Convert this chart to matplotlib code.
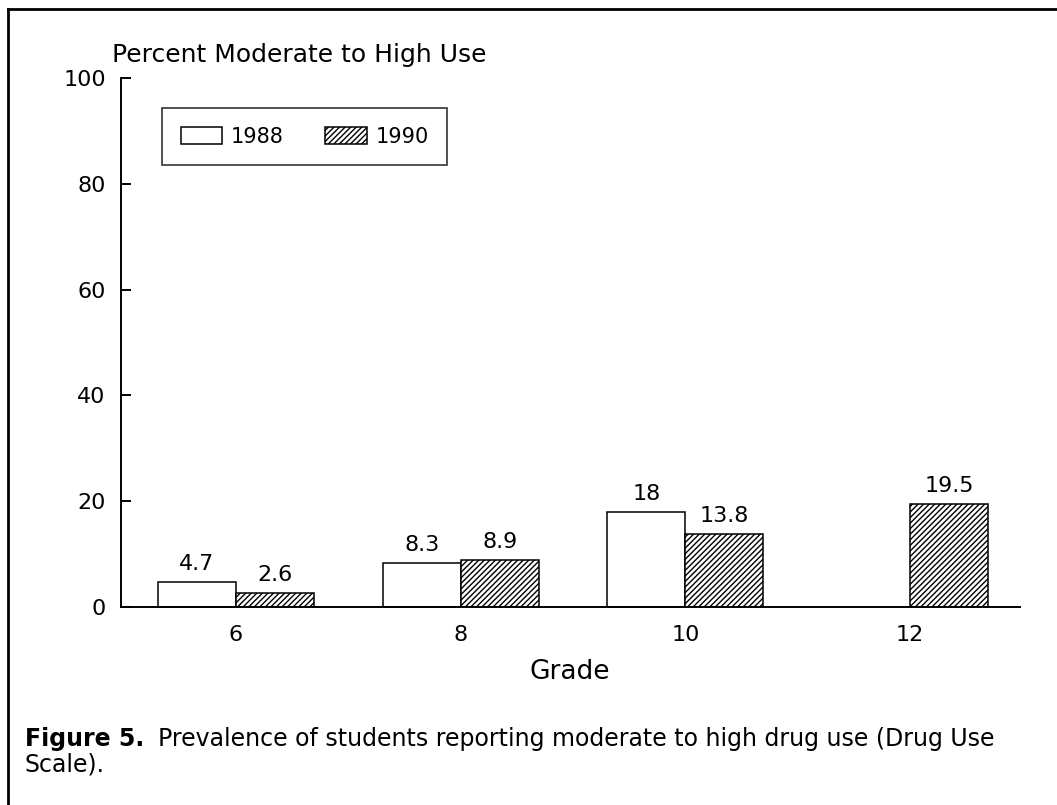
import numpy as np
import matplotlib
matplotlib.use("Agg")
import matplotlib.pyplot as plt
from matplotlib.lines import Line2D

# data
grades = ["6", "8", "10", "12"]
use_1988 = [4.7, 8.3, 18, np.nan]   # no 1988 survey for grade 12
use_1990 = [2.6, 8.9, 13.8, 19.5]
labels_1988 = ["4.7", "8.3", "18", ""]
labels_1990 = ["2.6", "8.9", "13.8", "19.5"]

W, H = 1057, 805
plt.rcParams['font.family'] = ['DejaVu Sans']
plt.rcParams['hatch.linewidth'] = 1.0

fig = plt.figure(figsize=(W / 100, H / 100), dpi=100)
ax = fig.add_axes([121 / W, 1 - 607 / H, (1020 - 121) / W, (607 - 78) / H])

x = np.arange(len(grades))
bw = 0.347
b1 = ax.bar(x - bw, use_1988, bw, align='edge', color='white', edgecolor='black', linewidth=1.1, label='1988')
b2 = ax.bar(x, use_1990, bw, align='edge', color='white', edgecolor='black', linewidth=1.1,
            hatch='//////', label='1990')

for bars, labs in [(b1, labels_1988), (b2, labels_1990)]:
    for r, lab in zip(bars, labs):
        if lab == "":
            continue
        ax.annotate(lab, (r.get_x() + r.get_width() / 2, r.get_height()),
                    xytext=(0, 8.5), textcoords='offset points',
                    ha='center', va='baseline', fontsize=16)

ax.set_xlim(-0.512, 3.489)
ax.set_ylim(0, 100)
ax.set_xticks(x)
ax.set_xticklabels(grades)
ax.set_yticks([0, 20, 40, 60, 80, 100])
ax.tick_params(axis='y', direction='in', length=7, width=1.4, pad=11, labelsize=16)
ax.tick_params(axis='x', length=0, pad=13, labelsize=16)
for s in ['top', 'right']:
    ax.spines[s].set_visible(False)
for s in ['left', 'bottom']:
    ax.spines[s].set_linewidth(1.4)

leg = ax.legend(loc='upper left', bbox_to_anchor=((162 - 121) / 899, (607 - 108) / 529),
                borderaxespad=0, ncol=2, fontsize=15, frameon=True, fancybox=False,
                handlelength=2.0, handleheight=0.87, handletextpad=0.4,
                columnspacing=2.0, borderpad=0.9)
leg.get_frame().set_edgecolor('black')
leg.get_frame().set_linewidth(1.2)

# titles and caption
fig.text(112 / W, 1 - 62 / H, "Percent Moderate to High Use", fontsize=18, va='baseline', ha='left')
fig.text(570 / W, 1 - 679 / H, "Grade", fontsize=19, va='baseline', ha='center')

t1 = fig.text(25 / W, 1 - 746 / H, "Figure 5.", fontsize=17, fontweight='bold',
              va='baseline', ha='left')
fig.canvas.draw()
bb = t1.get_window_extent()
fig.text((bb.x1 + 14) / W, 1 - 746 / H,
         "Prevalence of students reporting moderate to high drug use (Drug Use",
         fontsize=17, va='baseline', ha='left')
fig.text(25 / W, 1 - 771 / H, "Scale).", fontsize=17, va='baseline', ha='left')

# page frame (top and left edges)
fig.add_artist(Line2D([8 / W, 1], [1 - 9 / H, 1 - 9 / H], color='black', lw=2))
fig.add_artist(Line2D([8 / W, 8 / W], [0, 1 - 9 / H], color='black', lw=2))

fig.savefig("out.png", dpi=100)
